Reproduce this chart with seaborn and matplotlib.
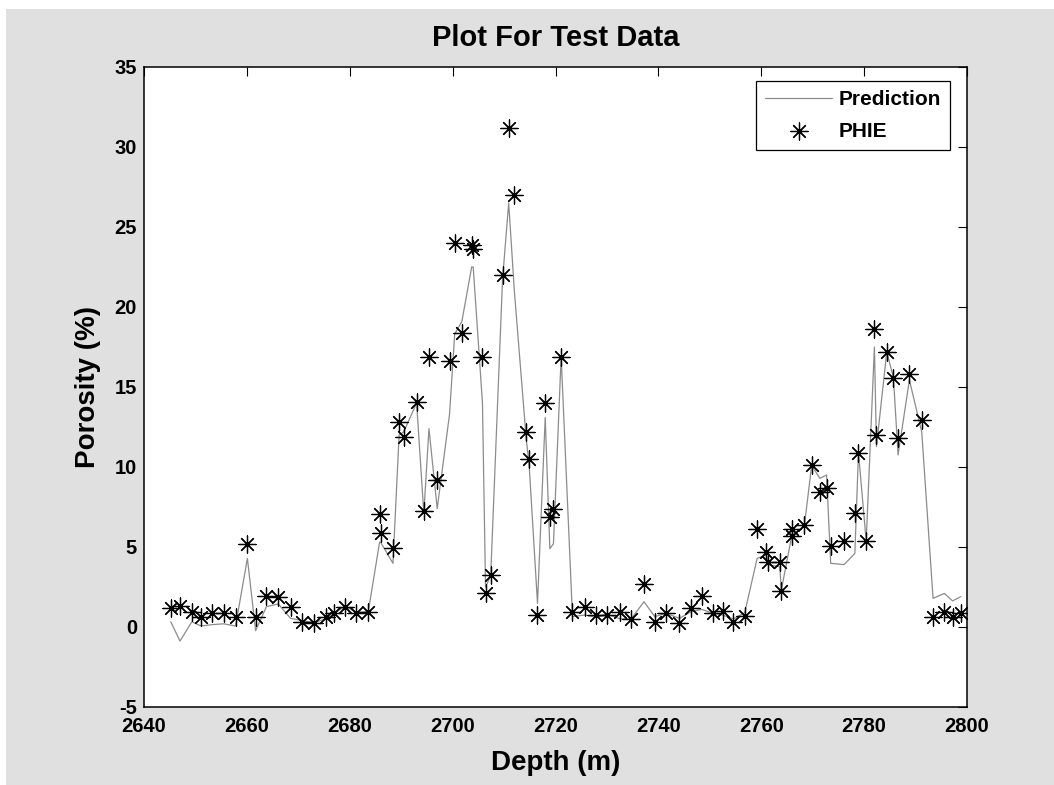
import numpy as np
import pandas as pd
import matplotlib
matplotlib.use("Agg")
import matplotlib.pyplot as plt
from matplotlib.patches import Rectangle
import seaborn as sns

# ---- data ----
depth = [2645.2, 2647.0, 2649.3, 2651.1, 2653.3, 2655.5, 2657.8, 2660.1, 2661.7, 2663.8,
         2666.1, 2668.5, 2670.8, 2673.0, 2675.3, 2677.0, 2679.1, 2681.3, 2683.6, 2685.8,
         2686.0, 2688.4, 2689.6, 2690.5, 2693.0, 2694.4, 2695.4, 2697.0, 2699.4, 2700.4,
         2701.8, 2703.7, 2704.0, 2705.8, 2706.4, 2707.4, 2709.7, 2710.9, 2712.0, 2714.3,
         2714.9, 2716.5, 2718.0, 2718.9, 2719.6, 2721.1, 2723.3, 2725.7, 2727.9, 2730.1,
         2732.6, 2734.7, 2737.2, 2739.3, 2741.5, 2744.1, 2746.3, 2748.4, 2750.7, 2752.5,
         2754.6, 2756.8, 2759.2, 2761.0, 2761.4, 2763.6, 2763.9, 2765.9, 2766.0, 2768.4,
         2769.8, 2771.4, 2772.7, 2773.5, 2776.1, 2778.2, 2778.9, 2780.4, 2782.0, 2782.4,
         2784.4, 2785.7, 2786.6, 2788.8, 2791.2, 2793.4, 2795.6, 2797.2, 2798.8]

phie = [1.17, 1.31, 0.92, 0.60, 0.90, 0.86, 0.65, 5.17, 0.65, 1.96,
        1.85, 1.27, 0.33, 0.23, 0.65, 0.90, 1.27, 0.86, 0.96, 7.06,
        5.90, 4.96, 12.8, 11.9, 14.07, 7.27, 16.9, 9.16, 16.6, 24.0,
        18.4, 23.9, 23.65, 16.9, 2.1, 3.25, 22.0, 31.2, 27.0, 12.17,
        10.48, 0.75, 13.98, 6.9, 7.4, 16.9, 0.96, 1.27, 0.75, 0.75,
        0.96, 0.5, 2.67, 0.33, 0.9, 0.27, 1.21, 1.96, 0.86, 1.0,
        0.33, 0.69, 6.1, 4.71, 4.08, 4.08, 2.27, 6.1, 5.69, 6.37,
        10.1, 8.46, 8.67, 5.08, 5.37, 7.1, 10.9, 5.37, 18.6, 12.0,
        17.2, 15.58, 11.79, 15.79, 12.94, 0.6, 0.92, 0.6, 0.85]

prediction = [0.33, -0.88, 0.33, 0.06, 0.15, 0.2, 0.06, 4.29, -0.23, 1.27,
              1.44, 0.54, 0.4, 0.27, 0.5, 0.85, 1.3, 0.9, 0.96, 5.3,
              5.3, 3.98, 12.0, 12.2, 14.0, 7.1, 12.4, 7.4, 13.3, 18.3,
              19.1, 22.5, 22.5, 14.0, 2.5, 3.2, 21.7, 26.5, 21.0, 11.8,
              10.0, 1.48, 13.1, 4.9, 5.2, 16.9, 0.65, 0.75, 0.6, 0.8,
              0.5, 0.5, 1.58, 0.65, 0.85, 0.54, 0.95, 1.1, 0.86, 0.75,
              0.5, 0.9, 4.29, 4.5, 3.88, 3.77, 2.3, 5.65, 5.65, 6.37,
              10.1, 9.29, 9.5, 3.98, 3.9, 4.6, 10.9, 5.37, 17.5, 11.27,
              17.2, 15.58, 10.75, 15.44, 12.2, 1.79, 2.1, 1.63, 1.9]

title = "Plot For Test Data"
xlabel = "Depth (m)"
ylabel = "Porosity (%)"
xticks = [2640, 2660, 2680, 2700, 2720, 2740, 2760, 2780, 2800]
yticks = [-5, 0, 5, 10, 15, 20, 25, 30, 35]

df = pd.DataFrame({"Depth": depth, "PHIE": phie, "Prediction": prediction})

# ---- styling ----
sns.set_style("white")
plt.rcParams["font.family"] = ["Liberation Sans", "DejaVu Sans"]
plt.rcParams["font.weight"] = "bold"
plt.rcParams["text.color"] = "black"
plt.rcParams["axes.labelcolor"] = "black"
plt.rcParams["xtick.color"] = "black"
plt.rcParams["ytick.color"] = "black"
plt.rcParams["axes.unicode_minus"] = False

W, H = 1054, 785
fig = plt.figure(figsize=(W / 100, H / 100), dpi=100, facecolor="white")
fig.patches.append(Rectangle((6 / W, 0), 1, (H - 9) / H, transform=fig.transFigure,
                             facecolor="#e0e0e0", edgecolor="none", zorder=-10))

ax = fig.add_axes([144 / W, 1 - 707 / H, 823 / W, 640 / H])
ax.set_facecolor("white")

sns.lineplot(data=df, x="Depth", y="Prediction", ax=ax, color="#8c8c8c",
             linewidth=0.9, label="Prediction", sort=False)
sns.scatterplot(data=df, x="Depth", y="PHIE", ax=ax, marker=(8, 2, 0), s=150,
                color="black", edgecolor="black", linewidth=0.9, label="PHIE", zorder=3)

ax.set_xlim(2640, 2800)
ax.set_ylim(-5, 35)
ax.set_xticks(xticks)
ax.set_yticks(yticks)
ax.tick_params(direction="in", length=6.5, width=0.8, top=True, right=True,
               labelsize=14.5, colors="black")
ax.tick_params(axis="x", pad=7)
ax.tick_params(axis="y", pad=5)
for lab in ax.get_xticklabels() + ax.get_yticklabels():
    lab.set_fontweight("bold")
    lab.set_color("black")
for sp in ax.spines.values():
    sp.set_visible(True)
    sp.set_color("black")
    sp.set_linewidth(1.1)

ax.set_title(title, fontsize=21, fontweight="bold", pad=15, color="black")
ax.set_xlabel(xlabel, fontsize=20, fontweight="bold", labelpad=10, color="black")
ax.set_ylabel(ylabel, fontsize=20, fontweight="bold", labelpad=10, color="black")

leg = ax.legend(loc="upper right", bbox_to_anchor=((950 - 144) / 823, 1 - (81 - 67) / 640),
                borderaxespad=0, frameon=True, fancybox=False, framealpha=1,
                edgecolor="black", fontsize=15, handlelength=3.2, labelspacing=0.6,
                borderpad=0.45, handletextpad=0.3)
leg.get_frame().set_linewidth(0.9)
for t in leg.get_texts():
    t.set_fontweight("bold")
    t.set_color("black")

fig.savefig("out.png", dpi=100, facecolor=fig.get_facecolor())
